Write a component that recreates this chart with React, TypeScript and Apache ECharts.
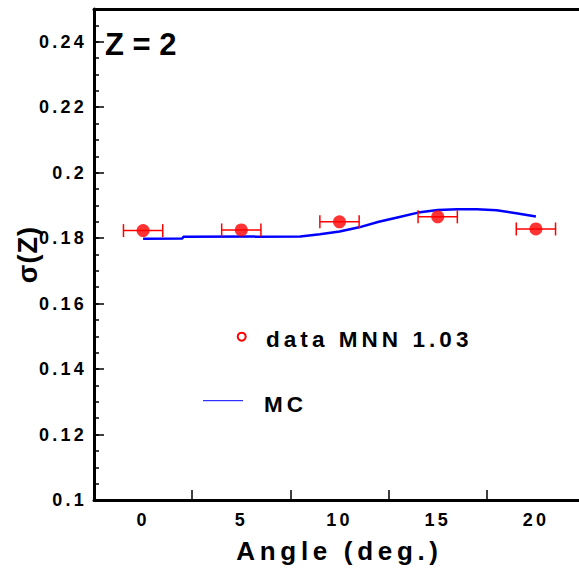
import React, { useEffect, useRef } from "react";
import * as echarts from "echarts";

// Measured data (MNN 1.03), angle in degrees
const angles = [0, 5, 10, 15, 20];
const sigmaData = [0.1823, 0.1825, 0.185, 0.1865, 0.1828];
const angleErr = [1, 1, 1, 1, 1];

// MC curve
const mcAngles = [0, 2, 2.05, 8, 9, 10, 11, 12, 13, 14, 15, 16, 17, 18, 19, 20];
const mcSigma = [0.1798, 0.1799, 0.1804, 0.1805, 0.1812, 0.182, 0.1833, 0.185, 0.1864, 0.1878, 0.1886, 0.1888, 0.1888, 0.1885, 0.1876, 0.1866];

const titleText = "Z = 2";
const xTitle = "Angle (deg.)";
const yTitle = "σ(Z)";
const legendData = "data MNN 1.03";
const legendMC = "MC";

const FONT = "'Liberation Sans', Arial, sans-serif";

export default function App() {
  const ref = useRef<HTMLDivElement>(null);

  useEffect(() => {
    if (!ref.current) return;
    const chart = echarts.init(ref.current, undefined, { renderer: "svg" });
    const isMult5 = (v: number) => Math.abs(v / 5 - Math.round(v / 5)) < 1e-6;
    const option: any = {
      animation: false,
      backgroundColor: "#ffffff",
      textStyle: { fontFamily: FONT },
      grid: { left: 94, right: 5, top: 9, bottom: 72, containLabel: false },
      xAxis: [
        {
          type: "value",
          position: "bottom",
          min: -2.5,
          max: 22.5,
          interval: 2.5,
          axisLine: { show: true, onZero: false, lineStyle: { color: "#000", width: 3 } },
          axisTick: { show: false },
          splitLine: { show: false },
          axisLabel: {
            color: "#000",
            fontSize: 18,
            fontWeight: "bold",
            fontFamily: FONT,
            margin: 11,
            formatter: (v: number) => (isMult5(v) ? String(Math.round(v)) : ""),
          },
          name: xTitle,
          nameLocation: "middle",
          nameGap: 38,
          nameTextStyle: { color: "#000", fontSize: 26, fontWeight: "bold", fontFamily: FONT },
        },
        {
          type: "value",
          position: "bottom",
          min: -2.5,
          max: 22.5,
          interval: 5,
          axisLine: { show: false, onZero: false },
          axisTick: { show: true, inside: true, length: 10, lineStyle: { color: "#000", width: 1.5 } },
          axisLabel: { show: false },
          splitLine: { show: false },
        },
        {
          type: "value",
          position: "top",
          min: -2.5,
          max: 22.5,
          axisLine: { show: true, onZero: false, lineStyle: { color: "#000", width: 3 } },
          axisTick: { show: false },
          axisLabel: { show: false },
          splitLine: { show: false },
        },
      ],
      yAxis: [
        {
          type: "value",
          position: "left",
          min: 0.1,
          max: 0.25,
          interval: 0.02,
          axisLine: { show: true, onZero: false, lineStyle: { color: "#000", width: 3 } },
          axisTick: { show: true, inside: true, length: 10, lineStyle: { color: "#000", width: 1.5 } },
          axisLabel: {
            showMaxLabel: false,
            color: "#000",
            fontSize: 18,
            fontWeight: "bold",
            fontFamily: FONT,
            margin: 7,
          },
          splitLine: { show: false },
          name: yTitle,
          nameLocation: "middle",
          nameGap: 53,
          nameTextStyle: { color: "#000", fontSize: 27, fontWeight: "bold", fontFamily: FONT },
        },
        {
          type: "value",
          position: "left",
          min: 0.1,
          max: 0.25,
          interval: 0.005,
          axisLine: { show: false, onZero: false },
          axisTick: { show: true, inside: true, length: 5, lineStyle: { color: "#000", width: 1.5 } },
          axisLabel: { show: false },
          splitLine: { show: false },
        },
      ],
      series: [
        {
          type: "line",
          name: legendMC,
          xAxisIndex: 0,
          yAxisIndex: 0,
          data: mcAngles.map((a, i) => [a, mcSigma[i]]),
          showSymbol: false,
          symbol: "none",
          lineStyle: { color: "#0000ff", width: 2.5 },
          z: 2,
        },
        {
          type: "custom",
          name: "err",
          xAxisIndex: 0,
          yAxisIndex: 0,
          data: angles.map((a, i) => [a, sigmaData[i], angleErr[i]]),
          renderItem: (params: any, api: any) => {
            const x = api.value(0);
            const y = api.value(1);
            const e = api.value(2);
            const p1 = api.coord([x - e, y]);
            const p2 = api.coord([x + e, y]);
            const h = 6.5;
            const st = { stroke: "#ff0000", lineWidth: 1.5 };
            return {
              type: "group",
              children: [
                { type: "line", shape: { x1: p1[0], y1: p1[1], x2: p2[0], y2: p2[1] }, style: st },
                { type: "line", shape: { x1: p1[0], y1: p1[1] - h, x2: p1[0], y2: p1[1] + h }, style: st },
                { type: "line", shape: { x1: p2[0], y1: p2[1] - h, x2: p2[0], y2: p2[1] + h }, style: st },
              ],
            };
          },
          z: 3,
        },
        {
          type: "scatter",
          name: legendData,
          xAxisIndex: 0,
          yAxisIndex: 0,
          data: angles.map((a, i) => [a, sigmaData[i]]),
          symbol: "circle",
          symbolSize: 13,
          itemStyle: { color: "#ff0000" },
          z: 4,
        },
      ],
      graphic: [
        {
          type: "text",
          left: 105,
          top: 29,
          style: { text: titleText, fill: "#000", font: `bold 31px ${FONT}` },
        },
        {
          type: "circle",
          shape: { cx: 241.7, cy: 336.7, r: 4 },
          style: { fill: "#fff", stroke: "#ff0000", lineWidth: 2 },
        },
        {
          type: "text",
          x: 266,
          y: 339,
          style: { text: legendData, fill: "#000", font: `bold 22.5px ${FONT}`, verticalAlign: "middle" },
        },
        {
          type: "line",
          shape: { x1: 203, y1: 400.7, x2: 243, y2: 400.7 },
          style: { stroke: "#0000ff", lineWidth: 1 },
        },
        {
          type: "text",
          x: 264,
          y: 404,
          style: { text: legendMC, fill: "#000", font: `bold 22.5px ${FONT}`, verticalAlign: "middle" },
        },
      ],
    };
    chart.setOption(option);
    return () => chart.dispose();
  }, []);

  return (
    <div
      className="chart-box"
      style={{
        position: "fixed",
        left: 0,
        top: 0,
        width: 579,
        height: 572,
        overflow: "hidden",
        background: "#fff",
      }}
    >
      <style>{`.chart-box text { letter-spacing: 0.18em; } .chart-box text[style*="31px"] { letter-spacing: 0; } .chart-box text[style*="27px"] { letter-spacing: 0.04em; }`}</style>
      <div ref={ref} style={{ width: 590, height: 572 }} />
    </div>
  );
}
